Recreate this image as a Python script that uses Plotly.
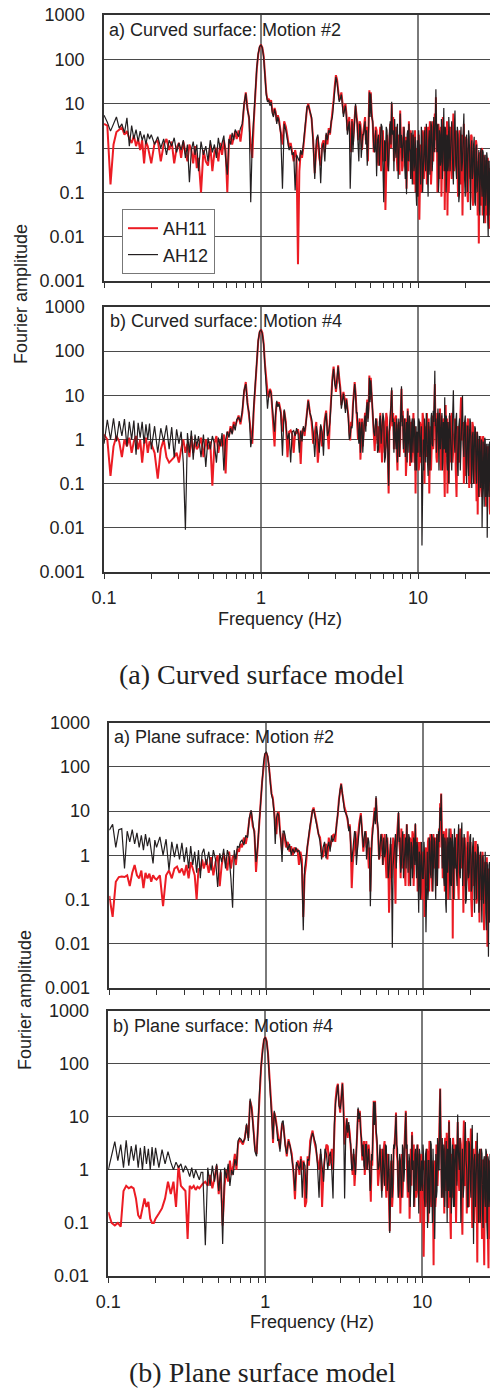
import sys
import math
import plotly.graph_objects as go

# ---------------- data ----------------
freq = [
    0.100, 0.105, 0.110, 0.115, 0.120, 0.125, 0.130, 0.135, 0.140, 0.145, 0.150, 0.155, 0.160, 0.165, 0.170, 0.175, 0.180, 0.185, 0.190, 0.195,
    0.20, 0.21, 0.22, 0.23, 0.24, 0.25, 0.26, 0.27, 0.28, 0.29, 0.30, 0.31, 0.32, 0.33, 0.34, 0.35, 0.36, 0.37, 0.38, 0.39,
    0.400, 0.415, 0.430, 0.445, 0.460, 0.475, 0.490, 0.505, 0.520, 0.535, 0.550, 0.565, 0.580, 0.595, 0.610, 0.625, 0.640, 0.655, 0.670, 0.685,
    0.70, 0.72, 0.74, 0.76, 0.78, 0.80, 0.82, 0.84, 0.86, 0.88, 0.90, 0.92, 0.94, 0.96, 0.98, 1.00, 1.02, 1.04, 1.06, 1.08, 1.10, 1.12, 1.14, 1.16, 1.18, 1.20, 1.22, 1.24, 1.26, 1.28,
    1.300, 1.335, 1.370, 1.405, 1.440, 1.475, 1.510, 1.545, 1.580, 1.615, 1.650, 1.685, 1.720, 1.755, 1.790, 1.825, 1.860, 1.895, 1.930, 1.965,
    2.00, 2.05, 2.10, 2.15, 2.20, 2.25, 2.30, 2.35, 2.40, 2.45, 2.50, 2.55, 2.60, 2.65, 2.70, 2.75, 2.80, 2.85, 2.90, 2.95,
    3.00, 3.05, 3.10, 3.15, 3.20, 3.25, 3.30, 3.35, 3.40, 3.45, 3.50, 3.55, 3.60, 3.65, 3.70, 3.75, 3.80, 3.85, 3.90, 3.95,
    4.00, 4.05, 4.10, 4.15, 4.20, 4.25, 4.30, 4.35, 4.40, 4.45, 4.50, 4.55, 4.60, 4.65, 4.70, 4.75, 4.80, 4.85, 4.90, 4.95,
    5.000, 5.075, 5.150, 5.225, 5.300, 5.375, 5.450, 5.525, 5.600, 5.675, 5.750, 5.825, 5.900, 5.975, 6.050, 6.125, 6.200, 6.275, 6.350, 6.425,
    6.500, 6.575, 6.650, 6.725, 6.800, 6.875, 6.950, 7.025, 7.100, 7.175, 7.250, 7.325, 7.400, 7.475, 7.550, 7.625, 7.700, 7.775, 7.850, 7.925,
    8.000, 8.075, 8.150, 8.225, 8.300, 8.375, 8.450, 8.525, 8.600, 8.675, 8.750, 8.825, 8.900, 8.975, 9.050, 9.125, 9.200, 9.275, 9.350, 9.425,
    9.500, 9.575, 9.650, 9.725, 9.800, 9.900,
    10.0, 10.1, 10.2, 10.3, 10.4, 10.5, 10.6, 10.7, 10.8, 10.9, 11.0, 11.1, 11.2, 11.3, 11.4, 11.5, 11.6, 11.7, 11.8, 11.9,
    12.0, 12.1, 12.2, 12.3, 12.4, 12.5, 12.6, 12.7, 12.8, 12.9, 13.0, 13.1, 13.2, 13.3, 13.4, 13.5, 13.6, 13.7, 13.8, 13.9,
    14.0, 14.1, 14.2, 14.3, 14.4, 14.5, 14.6, 14.7, 14.8, 14.9, 15.0, 15.1, 15.2, 15.3, 15.4, 15.5, 15.6, 15.7, 15.8, 15.9,
    16.0, 16.2, 16.4, 16.6, 16.8, 17.0, 17.2, 17.4, 17.6, 17.8, 18.0, 18.2, 18.4, 18.6, 18.8, 19.0, 19.2, 19.4, 19.6, 19.8,
    20.0, 20.2, 20.4, 20.6, 20.8, 21.0, 21.2, 21.4, 21.6, 21.8, 22.0, 22.2, 22.4, 22.6, 22.8, 23.0, 23.2, 23.4, 23.6, 23.8,
    24.0, 24.2, 24.4, 24.6, 24.8, 25.0, 25.2, 25.4, 25.6, 25.8, 26.0, 26.2, 26.4, 26.6, 26.8, 27.0, 27.2, 27.4, 27.6, 27.8,
    28.0, 28.2, 28.4, 28.6, 28.8, 29.0, 29.2,
]

curved_m2_AH11 = [
    3.5, 3.2, 0.15, 1.2, 2.3, 2.6, 2.9, 2.0, 2.4, 1.6, 1.3, 1.9, 1.1, 1.6, 0.9, 1.5, 0.45, 1.4, 1.1, 0.7,
    0.45, 1.3, 1.5, 0.5, 1.2, 1.6, 0.9, 1.4, 0.45, 1.0, 1.3, 0.6, 1.4, 0.8, 0.5, 1.2, 0.9, 0.45, 1.1, 0.35,
    0.6, 0.1, 0.9, 0.5, 0.4, 1.2, 0.3, 0.8, 1.0, 0.5, 1.3, 0.7, 1.5, 0.9, 0.1, 1.4, 2.0, 1.2, 1.8, 2.4,
    1.6, 2.5, 1.4, 3.0, 9.0, 18, 8.0, 4.5, 1.2, 0.6, 4.0, 20, 60, 130, 190, 215, 185, 120, 45, 18, 12, 13, 10, 12, 7, 5.5, 8.0, 6.5, 4.0, 5.5,
    4.5, 2.5, 1.2, 4.0, 3.0, 1.8, 1.0, 1.3, 0.8, 0.5, 0.9, 0.6, 0.0024, 0.3, 0.8, 0.6, 1.0, 2.0, 4.0, 8.0,
    10, 7, 4.5, 1.5, 0.27, 1.0, 1.8, 0.6, 0.4, 1.2, 1.5, 0.8, 2.0, 1.2, 2.8, 2.0, 3.5, 6, 12, 25,
    44, 35, 22, 12, 14, 18, 11, 6, 8, 10, 6, 2.5, 3.5, 5, 1.5, 0.8, 4.5, 1.2, 2.5, 5,
    9, 6, 4.0, 1.5, 2.2, 4.0, 3.5, 1.0, 0.9, 1.8, 2.5, 4.0, 5.0, 1.5, 3.0, 1.0, 0.5, 4.0, 20, 6,
    18, 6, 3.5, 0.8, 1.2, 3.0, 2.5, 0.6, 0.4, 1.5, 3.0, 0.3, 1.0, 2.5, 0.5, 1.2, 0.04, 0.8, 2.0, 0.3,
    0.6, 2.0, 3.5, 1.0, 10, 2.5, 5, 0.5, 0.8, 2.0, 3.0, 0.6, 0.3, 1.2, 2.0, 0.25, 7, 2.0, 1.5, 0.3,
    0.4, 3.0, 2.5, 0.6, 0.8, 1.8, 0.12, 0.9, 1.5, 0.3, 4.0, 0.8, 0.5, 2.5, 1.8, 0.2, 0.3, 2.0, 1.2, 0.15,
    0.6, 2.5, 0.1, 1.0, 0.8, 0.2,
    0.6, 2.0, 0.024, 0.9, 1.2, 0.1, 0.3, 2.5, 2.0, 0.2, 0.5, 3.0, 1.5, 0.4, 0.15, 1.5, 3.0, 0.3, 0.8, 4.0,
    2.0, 0.15, 0.3, 1.8, 4.0, 0.5, 1.0, 2.5, 6.0, 1.5, 14, 0.8, 2.0, 0.1, 0.4, 3.5, 2.5, 0.2, 0.7, 2.0,
    3.0, 0.08, 0.25, 1.5, 5.0, 0.3, 1.0, 3.0, 0.04, 0.6, 2.0, 0.15, 0.5, 4.0, 0.03, 0.5, 1.5, 0.1, 0.3, 2.5,
    3.0, 0.5, 0.2, 1.5, 6.0, 0.3, 0.5, 2.5, 2.0, 0.4, 0.08, 1.2, 2.5, 0.15, 0.4, 2.0, 0.03, 0.6, 3.5, 0.2,
    0.3, 1.8, 1.5, 0.1, 0.06, 0.9, 1.2, 0.3, 0.2, 2.0, 1.8, 0.08, 0.05, 0.7, 1.0, 0.1, 0.15, 1.5, 1.2, 0.2,
    0.03, 0.5, 0.007, 0.4, 0.8, 0.05, 0.1, 0.9, 1.0, 0.03, 0.04, 0.7, 0.6, 0.08, 0.02, 0.5, 0.5, 0.03, 0.05, 0.6,
    0.4, 0.02, 0.015, 0.3, 0.35, 0.04, 0.1,
]
curved_m2_AH12 = [
    5.5, 3.8, 2.4, 3.5, 5.0, 2.8, 3.5, 2.2, 4.8, 1.1, 3.2, 1.6, 2.6, 1.4, 2.4, 1.5, 2.0, 1.2, 2.1, 1.6,
    2.0, 1.2, 1.8, 1.0, 1.6, 0.7, 1.5, 1.1, 1.7, 0.8, 1.3, 0.9, 1.5, 0.6, 1.2, 0.17, 0.9, 1.4, 0.7, 1.2,
    0.3, 1.4, 0.7, 1.1, 0.5, 1.5, 0.8, 1.2, 0.6, 1.7, 0.9, 1.3, 1.9, 0.6, 0.25, 1.6, 1.2, 2.2, 1.5, 2.6,
    2.2, 1.8, 2.8, 3.5, 10, 17, 7, 5, 0.06, 1.5, 5, 22, 65, 135, 195, 210, 180, 110, 40, 16, 11, 12, 9, 11, 6, 5, 7.5, 6, 3.5, 5,
    4.0, 2.2, 0.12, 3.5, 2.5, 1.5, 0.9, 1.1, 0.7, 0.8, 0.11, 0.7, 0.6, 0.5, 0.9, 0.7, 1.2, 2.2, 4.5, 8.5,
    9, 7, 5, 1.2, 0.2, 1.5, 2.0, 0.9, 0.16, 1.0, 1.3, 0.5, 2.2, 1.5, 2.5, 2.2, 4.0, 5, 11, 22,
    40, 30, 20, 11, 13, 16, 9, 5, 7, 9, 5, 2.0, 3.0, 4.0, 0.12, 1.5, 4.0, 0.8, 2.0, 6,
    10, 5, 3.5, 1.2, 0.5, 3.5, 3.0, 0.6, 1.2, 2.0, 2.0, 3.5, 4.0, 1.2, 2.5, 0.4, 1.0, 3.0, 18, 5,
    17, 5, 4.0, 1.0, 0.8, 2.5, 0.23, 1.5, 2.0, 0.4, 1.2, 3.5, 3.0, 0.5, 0.06, 1.5, 0.5, 3.0, 2.5, 0.4,
    0.3, 2.0, 4.0, 1.2, 11, 2.0, 2.5, 0.3, 4.5, 1.0, 0.6, 2.5, 3.5, 0.2, 0.9, 3.0, 6, 1.0, 2.0, 0.5,
    0.8, 2.0, 3.0, 0.4, 0.2, 1.5, 0.09, 2.0, 2.5, 0.5, 3.5, 1.0, 0.8, 0.2, 2.2, 0.6, 0.15, 2.5, 1.5, 0.3,
    0.4, 1.8, 1.0, 0.1, 0.05, 1.5,
    0.08, 2.5, 1.0, 0.3, 0.15, 3.0, 1.8, 0.1, 0.4, 2.0, 2.5, 0.5, 0.3, 3.5, 1.2, 0.2, 0.08, 1.5, 2.5, 0.25,
    0.6, 4.0, 3.0, 0.3, 0.5, 2.0, 5.0, 0.8, 1.5, 4.0, 21, 1.0, 0.8, 3.0, 3.5, 0.1, 0.2, 2.5, 2.0, 0.4,
    0.5, 4.5, 3.0, 0.2, 0.9, 2.5, 8, 0.5, 0.3, 3.0, 2.5, 0.1, 0.2, 2.0, 1.8, 0.3, 0.4, 5.0, 3.0, 0.6,
    0.3, 1.5, 4.0, 0.5, 0.15, 2.5, 7.0, 0.4, 0.2, 3.0, 2.0, 0.06, 0.1, 1.5, 3.0, 0.3, 0.5, 2.0, 6.0, 0.2,
    0.08, 1.5, 2.0, 0.1, 0.3, 2.5, 1.8, 0.15, 0.04, 1.0, 1.5, 0.2, 0.3, 1.2, 1.8, 0.06, 0.05, 1.0, 1.2, 0.1,
    0.2, 0.9, 0.9, 0.04, 0.03, 0.8, 1.0, 0.15, 0.08, 0.9, 0.8, 0.02, 0.04, 0.6, 0.7, 0.05, 0.1, 0.8, 0.6, 0.03,
    0.01, 0.5, 0.5, 0.06, 0.03, 0.45, 0.4,
]

curved_m4_AH11 = [
    1.3, 1.0, 0.15, 0.7, 1.2, 0.9, 0.4, 1.0, 0.7, 1.1, 0.5, 0.9, 1.2, 0.6, 1.0, 0.3, 0.8, 1.1, 0.5, 0.9,
    0.8, 0.5, 0.13, 0.6, 1.0, 0.4, 0.3, 0.35, 0.4, 0.5, 0.3, 0.6, 1.0, 0.5, 0.8, 0.4, 1.2, 0.5, 0.9, 0.6,
    0.7, 1.1, 0.4, 1.0, 0.6, 0.9, 0.09, 0.8, 1.2, 0.5, 1.0, 0.7, 1.3, 0.17, 1.5, 1.2, 2.0, 1.4, 2.5, 2.0,
    2.5, 3.5, 2.2, 4.0, 12, 20, 7, 3.5, 1.5, 0.8, 5, 20, 70, 170, 270, 310, 260, 150, 50, 20, 12, 9, 14, 12, 5, 2.5, 0.7, 3.5, 7.0, 6.0,
    7.0, 4.5, 1.5, 4.5, 2.5, 0.4, 1.5, 1.6, 1.3, 0.5, 1.5, 1.4, 1.7, 1.2, 0.28, 1.5, 1.8, 1.2, 2.5, 4.5,
    8, 4, 2.5, 0.8, 1.5, 2.5, 0.3, 1.0, 2.0, 0.7, 1.8, 3.0, 4.5, 2.0, 0.6, 3.0, 10, 25, 45, 20,
    12, 20, 48, 25, 15, 6, 8, 12, 9, 5, 8.5, 6, 3.5, 1.5, 0.95, 2.5, 2.0, 6, 16, 20,
    12, 5, 3.5, 1.0, 2.0, 3.0, 0.35, 1.5, 3.0, 0.7, 1.5, 3.0, 4.0, 2.0, 5.5, 8, 3.0, 6, 28, 8,
    25, 8, 3.5, 1.0, 0.55, 2.0, 3.0, 0.8, 2.0, 0.5, 4.0, 1.2, 0.3, 3.0, 2.5, 0.5, 0.7, 4.0, 3.0, 0.4,
    0.06, 1.5, 2.0, 5.0, 13, 2.0, 4.0, 0.6, 1.0, 3.0, 3.5, 0.5, 0.2, 2.0, 2.5, 0.4, 0.9, 5.0, 14, 2.5,
    4.5, 1.0, 0.5, 2.5, 3.0, 0.15, 0.3, 1.5, 5.0, 0.8, 1.2, 3.0, 0.25, 1.0, 2.5, 0.3, 0.8, 2.0, 4.0, 0.6,
    0.3, 2.0, 0.06, 0.8, 1.5, 0.4,
    1.5, 0.2, 0.3, 2.5, 2.0, 0.3, 0.5, 4.0, 3.0, 0.8, 0.1, 2.0, 1.5, 0.4, 4.0, 1.0, 0.8, 3.0, 0.06, 0.5,
    2.0, 0.2, 0.5, 2.5, 3.5, 0.6, 1.0, 5.0, 18, 3.0, 2.5, 0.4, 0.3, 4.0, 3.0, 0.8, 0.8, 2.0, 5.0, 0.3,
    0.2, 3.5, 2.0, 0.5, 0.6, 2.5, 3.0, 0.2, 0.05, 1.5, 6.0, 0.8, 0.4, 3.0, 0.06, 0.5, 2.5, 0.1, 0.8, 3.5,
    0.3, 2.0, 4.0, 0.3, 0.8, 2.5, 3.0, 0.2, 0.05, 1.5, 2.0, 0.3, 0.4, 3.0, 9.0, 1.0, 1.0, 2.5, 0.1, 0.8,
    2.5, 0.15, 0.3, 2.0, 3.0, 0.4, 0.08, 1.2, 1.5, 0.1, 0.5, 2.5, 2.0, 0.2, 0.1, 1.0, 1.2, 0.3, 0.04, 1.5,
    0.02, 0.6, 1.0, 0.05, 0.15, 1.2, 0.8, 0.08, 0.05, 0.9, 1.2, 0.2, 0.1, 0.8, 0.6, 0.04, 0.03, 0.6, 0.7, 0.15,
    0.1, 0.7, 0.5, 0.03, 0.02, 0.5, 0.4,
]
curved_m4_AH12 = [
    0.8, 2.8, 1.0, 3.0, 0.9, 2.6, 1.2, 2.9, 0.7, 2.5, 1.0, 2.7, 0.45, 2.4, 1.1, 2.5, 0.8, 2.2, 1.0, 2.3,
    0.6, 2.0, 0.5, 1.8, 0.9, 2.1, 0.6, 1.9, 0.4, 1.7, 0.8, 1.5, 0.3, 0.009, 1.4, 0.5, 1.6, 0.35, 1.3, 0.7,
    1.2, 0.4, 1.3, 0.24, 1.1, 0.6, 1.2, 0.8, 0.3, 1.1, 0.7, 1.4, 0.2, 1.0, 1.5, 1.1, 1.8, 1.3, 2.2, 1.6,
    2.8, 3.2, 2.5, 4.5, 13, 18, 6, 4.0, 0.67, 1.2, 6, 22, 75, 175, 280, 300, 250, 140, 45, 18, 5, 10, 13, 11, 6, 3.0, 1.5, 4.0, 7.5, 5.5,
    6.5, 4.0, 0.43, 4.8, 2.0, 1.0, 1.4, 0.3, 1.5, 1.6, 1.2, 1.8, 1.4, 0.5, 1.6, 0.9, 2.0, 1.5, 2.2, 5.0,
    7.5, 4, 3.0, 1.5, 0.4, 2.0, 1.2, 0.5, 2.2, 1.5, 0.43, 2.5, 4.0, 1.2, 1.5, 2.5, 9, 22, 40, 18,
    14, 22, 45, 20, 13, 5, 9, 11, 7, 4, 8, 5, 3.0, 1.0, 1.2, 2.0, 1.8, 5, 15, 18,
    11, 4, 4.0, 1.5, 0.8, 2.5, 0.5, 1.8, 2.5, 0.5, 1.8, 2.5, 3.5, 1.5, 5.0, 7, 2.5, 5, 25, 7,
    22, 6, 4.0, 1.5, 1.2, 3.0, 2.5, 0.5, 0.6, 2.5, 3.5, 0.8, 1.5, 4.0, 3.0, 0.3, 0.4, 1.5, 2.0, 0.5,
    0.09, 2.0, 3.0, 6.0, 15, 2.5, 3.0, 0.5, 2.5, 1.0, 0.6, 3.0, 0.3, 1.5, 3.0, 0.4, 2.0, 6.0, 16, 2.0,
    3.5, 0.6, 1.0, 3.0, 0.4, 2.0, 2.5, 0.3, 4.5, 1.5, 0.5, 3.5, 2.0, 0.4, 0.3, 2.5, 3.0, 0.5, 1.0, 3.0,
    2.5, 0.2, 0.5, 2.0, 0.2, 1.5,
    0.5, 3.0, 2.5, 0.4, 0.8, 2.0, 0.004, 0.6, 1.0, 0.2, 3.0, 0.8, 0.3, 4.0, 2.0, 0.3, 0.15, 2.5, 1.5, 0.2,
    0.4, 3.0, 4.0, 0.8, 0.7, 4.5, 2.5, 8, 36, 2.0, 3.0, 0.5, 0.8, 2.5, 5.0, 0.3, 0.2, 4.0, 3.0, 0.6,
    1.0, 3.5, 4.0, 0.2, 0.3, 2.5, 2.0, 0.6, 9.0, 1.0, 0.5, 3.5, 3.0, 0.3, 0.2, 2.5, 1.5, 0.1, 0.5, 4.0,
    2.5, 0.6, 0.2, 3.0, 13, 1.0, 0.5, 2.5, 4.0, 0.3, 0.15, 2.0, 3.0, 0.2, 0.8, 4.0, 10, 0.8, 0.4, 2.5,
    3.5, 0.3, 0.1, 2.0, 2.0, 0.15, 0.6, 3.0, 2.5, 0.4, 0.08, 1.2, 1.5, 0.1, 0.3, 2.0, 1.8, 0.2, 0.1, 1.5,
    1.2, 0.3, 0.05, 1.2, 1.0, 0.08, 0.2, 1.0, 0.01, 0.6, 0.9, 0.1, 0.03, 1.1, 1.0, 0.05, 0.15, 0.8, 0.006, 0.5,
    0.8, 0.1, 0.05, 0.9, 0.7, 0.08, 0.02,
]

plane_m2_AH11 = [
    0.12, 0.04, 0.25, 0.32, 0.33, 0.32, 0.35, 0.2, 0.4, 0.6, 0.35, 0.3, 0.45, 0.18, 0.4, 0.3, 0.38, 0.25, 0.35, 0.3,
    0.28, 0.35, 0.07, 0.35, 0.45, 0.3, 0.5, 0.55, 0.4, 0.5, 0.35, 0.6, 0.3, 0.7, 0.5, 0.35, 0.1, 0.5, 0.45, 0.8,
    0.5, 0.8, 0.4, 0.9, 0.35, 0.7, 1.0, 0.2, 0.6, 1.1, 0.7, 0.45, 1.2, 0.5, 0.9, 1.0, 0.6, 1.4, 1.2, 1.8,
    1.5, 2.5, 1.8, 3.0, 6.5, 10, 4.5, 3.5, 0.42, 1.2, 4.5, 15, 45, 120, 190, 210, 170, 100, 45, 25, 20, 10, 7, 3.0, 9, 9.5, 4, 2.0, 1.2, 3.0,
    3.0, 1.5, 2.0, 1.2, 1.6, 1.0, 1.5, 1.2, 1.4, 0.6, 1.2, 0.8, 0.04, 0.35, 0.6, 1.5, 2.5, 4.0, 6.0, 10,
    12, 8, 5, 3.0, 2.5, 1.2, 0.9, 1.5, 1.8, 0.8, 2.5, 1.5, 2.2, 2.8, 3.0, 2.0, 5, 8, 18, 30,
    42, 25, 15, 12, 10, 8, 6, 4, 5, 2.0, 0.18, 0.6, 1.2, 2.5, 3.5, 1.0, 1.5, 3.0, 5, 7,
    9, 5, 3.0, 1.2, 1.8, 3.0, 3.5, 1.5, 2.5, 1.0, 0.5, 1.5, 0.15, 1.0, 2.5, 4.0, 5, 8, 12, 6,
    20, 6, 3.5, 0.8, 1.0, 2.5, 3.0, 0.6, 1.5, 3.0, 0.8, 0.3, 2.5, 1.0, 0.05, 1.2, 1.8, 0.3, 0.6, 2.5,
    2.0, 0.5, 0.08, 1.5, 3.0, 5.0, 9.0, 2.0, 1.2, 0.3, 4.0, 1.0, 0.5, 2.5, 3.0, 0.4, 0.2, 1.8, 5.0, 1.0,
    1.5, 0.2, 0.3, 2.5, 2.0, 0.5, 0.7, 3.5, 3.0, 0.2, 0.4, 1.5, 5.0, 0.8, 1.0, 2.5, 0.15, 0.8, 2.0, 0.3,
    0.5, 2.0, 1.5, 0.2, 0.1, 1.0,
    1.2, 0.3, 0.04, 0.8, 1.5, 0.2, 0.3, 2.0, 2.5, 0.15, 0.5, 3.0, 1.8, 0.3, 0.15, 1.5, 3.0, 0.5, 0.8, 2.5,
    2.0, 0.2, 0.4, 3.0, 1.5, 0.5, 4.0, 1.5, 15, 8, 25, 4, 2.0, 0.3, 0.6, 3.5, 2.5, 0.15, 0.3, 2.0,
    4.0, 0.5, 0.8, 2.5, 0.1, 1.5, 2.0, 0.3, 0.4, 4.0, 3.0, 0.6, 0.2, 1.5, 0.013, 0.5, 1.5, 0.1, 0.5, 2.5,
    0.5, 1.5, 3.0, 0.3, 0.1, 2.0, 4.0, 0.5, 0.8, 2.5, 0.05, 0.8, 2.5, 0.2, 0.3, 1.5, 3.5, 0.3, 0.15, 1.2,
    2.0, 0.1, 0.04, 0.9, 1.5, 0.2, 0.4, 2.0, 2.0, 0.08, 0.1, 1.0, 1.2, 0.2, 0.03, 0.8, 1.0, 0.1, 0.2, 1.2,
    0.8, 0.05, 0.02, 0.6, 0.7, 0.08, 0.1, 0.9, 0.0085, 0.3, 0.5, 0.03, 0.05, 0.6, 0.4, 0.04, 0.02, 0.5, 0.3, 0.02,
    0.05, 0.4, 0.3, 0.03, 0.02, 0.3, 0.2,
]
plane_m2_AH12 = [
    3.7, 5.0, 1.5, 3.8, 4.0, 0.5, 3.5, 2.0, 3.8, 1.8, 3.2, 1.5, 2.8, 1.3, 3.0, 1.6, 2.5, 1.2, 0.65, 2.2,
    1.5, 2.6, 1.0, 2.3, 0.46, 2.0, 0.9, 1.8, 0.8, 1.9, 0.7, 1.5, 0.5, 1.6, 0.6, 1.2, 0.4, 1.3, 0.3, 1.1,
    1.4, 0.6, 1.2, 0.45, 1.3, 0.8, 0.19, 1.1, 0.7, 1.4, 0.5, 1.3, 0.9, 0.3, 0.065, 1.3, 0.8, 1.6, 1.5, 2.0,
    2.2, 1.7, 2.8, 2.5, 7, 10.5, 5, 3.0, 0.7, 1.5, 5, 16, 48, 125, 200, 215, 175, 105, 45, 23, 18, 9, 1.8, 7, 9, 8, 3.5, 2.0, 0.7, 3.5,
    3.5, 2.0, 1.3, 1.8, 1.0, 1.4, 1.1, 1.5, 1.2, 1.3, 0.9, 0.5, 0.02, 0.5, 0.9, 1.8, 3.0, 4.5, 6.5, 10,
    11, 7, 4.5, 2.5, 2.0, 0.8, 1.5, 2.0, 0.85, 1.5, 2.0, 1.2, 2.8, 2.0, 2.5, 3.0, 4.5, 9, 20, 30,
    40, 22, 14, 10, 9, 8, 7, 3.5, 4.5, 1.5, 0.7, 1.2, 2.0, 3.5, 3.0, 0.6, 1.2, 2.5, 4.5, 6,
    8, 4, 3.5, 1.5, 2.5, 3.5, 3.0, 0.8, 1.5, 2.5, 2.0, 0.8, 0.07, 1.2, 2.0, 3.0, 4.5, 7, 10, 5,
    22, 7, 4.0, 0.8, 1.5, 3.0, 2.0, 0.6, 2.5, 0.9, 1.2, 3.0, 2.0, 0.3, 0.5, 2.0, 2.5, 0.4, 0.008, 0.6,
    1.0, 2.5, 3.0, 0.5, 1.5, 3.5, 9.5, 2.0, 2.5, 0.4, 0.6, 2.0, 3.5, 0.3, 0.8, 2.5, 2.5, 0.5, 5.0, 1.5,
    0.4, 3.0, 2.5, 0.6, 0.2, 2.0, 1.5, 0.3, 0.5, 2.5, 2.0, 0.6, 5.3, 1.0, 0.3, 2.0, 1.5, 0.2, 0.05, 1.2,
    1.0, 0.1, 0.15, 2.0, 0.8, 0.3,
    0.3, 2.0, 1.0, 0.3, 0.018, 0.9, 1.2, 0.1, 0.2, 2.5, 2.0, 0.4, 0.3, 3.0, 2.5, 0.15, 0.5, 2.5, 2.0, 0.3,
    0.1, 1.5, 3.0, 0.2, 0.6, 3.5, 2.0, 5, 12, 6, 24, 3, 0.5, 2.0, 3.0, 0.3, 0.2, 2.5, 2.0, 0.08,
    0.05, 1.5, 2.5, 0.4, 0.8, 3.0, 4.0, 0.3, 0.1, 2.5, 2.0, 0.2, 0.7, 3.0, 1.5, 0.3, 0.1, 2.0, 4.0, 0.5,
    2.5, 0.6, 0.2, 2.0, 5.0, 0.4, 0.3, 2.5, 5.5, 0.2, 0.5, 3.0, 1.5, 0.08, 0.1, 2.0, 2.0, 0.3, 0.4, 2.5,
    3.0, 0.15, 0.2, 1.5, 2.5, 0.3, 0.05, 1.2, 1.0, 0.1, 0.5, 1.8, 1.5, 0.05, 0.1, 1.0, 1.2, 0.15, 0.03, 0.8,
    1.0, 0.08, 0.3, 1.2, 1.2, 0.05, 0.02, 0.7, 0.6, 0.1, 0.005, 0.6, 0.7, 0.03, 0.05, 0.5, 0.5, 0.1, 0.03, 0.4,
    0.4, 0.02, 0.1, 0.5, 0.3, 0.04, 0.05,
]

plane_m4_AH11 = [
    0.16, 0.1, 0.09, 0.1, 0.085, 0.4, 0.5, 0.45, 0.48, 0.45, 0.29, 0.14, 0.12, 0.18, 0.29, 0.2, 0.25, 0.12, 0.1, 0.1,
    0.12, 0.15, 0.19, 0.29, 0.6, 0.35, 0.6, 0.2, 1.2, 0.5, 0.45, 0.4, 0.05, 0.5, 0.45, 0.5, 0.42, 0.48, 0.45, 0.5,
    0.55, 0.6, 0.5, 0.8, 0.45, 0.7, 1.2, 0.35, 0.9, 0.09, 0.5, 1.0, 0.6, 1.5, 0.8, 1.2, 2.0, 1.0, 3.0, 3.8,
    3.5, 3.0, 4.0, 7, 4.0, 20, 15, 6, 2.5, 2.0, 8, 30, 85, 180, 280, 320, 270, 160, 70, 25, 12, 3.2, 12, 10, 7, 4.0, 3.5, 2.5, 5.0, 7.5,
    7.0, 3.5, 1.8, 3.8, 2.5, 2.0, 0.9, 0.28, 1.2, 1.5, 0.8, 1.8, 1.0, 1.5, 0.2, 0.25, 1.8, 1.2, 3.5, 4.5,
    5.5, 3.5, 2.5, 1.5, 1.0, 2.0, 0.2, 1.0, 2.0, 3.0, 2.8, 1.2, 1.5, 2.5, 1.0, 6, 20, 35, 42, 18,
    12, 25, 44, 15, 3.0, 5, 9.5, 4, 7, 5, 2.5, 1.2, 0.8, 2.0, 0.5, 1.0, 1.8, 5, 14, 8,
    13, 6, 4.5, 1.5, 2.5, 3.5, 0.8, 2.0, 3.5, 1.0, 1.5, 3.0, 2.0, 0.6, 0.25, 1.5, 1.2, 5, 20, 8,
    20, 5, 3.0, 0.5, 0.9, 2.0, 2.5, 0.4, 0.6, 2.5, 3.5, 0.8, 0.3, 1.5, 2.0, 0.3, 0.07, 1.0, 1.5, 0.2,
    0.4, 2.5, 3.0, 5.0, 12, 2.0, 1.5, 0.5, 0.3, 1.5, 0.15, 0.8, 2.0, 0.3, 0.8, 2.5, 4.0, 6, 13, 3.0,
    2.0, 0.3, 0.4, 1.5, 0.12, 1.0, 2.5, 0.5, 5.2, 1.5, 1.0, 3.0, 0.2, 0.8, 2.0, 0.3, 0.5, 2.5, 3.0, 0.4,
    0.3, 2.0, 1.5, 0.1, 0.8, 2.0,
    0.8, 0.3, 0.023, 1.0, 1.5, 0.2, 0.3, 2.5, 2.0, 0.1, 0.6, 3.5, 3.0, 0.4, 0.2, 1.5, 1.2, 0.3, 0.016, 0.8,
    1.5, 0.2, 0.3, 3.0, 2.5, 0.5, 0.8, 2.0, 4.0, 10, 34, 5, 3.0, 0.3, 0.5, 2.5, 2.0, 0.6, 0.15, 3.0,
    4.0, 0.4, 0.6, 5.0, 2.5, 0.2, 0.2, 1.8, 8.6, 1.5, 1.0, 0.1, 0.05, 1.5, 2.0, 0.3, 0.4, 4.0, 3.0, 0.5,
    1.0, 3.0, 0.1, 1.5, 8.0, 0.8, 0.4, 4.0, 3.0, 0.3, 0.06, 2.0, 8.5, 0.5, 1.5, 3.5, 0.15, 0.8, 4.0, 0.2,
    0.5, 2.5, 6.0, 0.6, 0.08, 1.5, 2.5, 0.1, 0.3, 3.0, 3.5, 0.4, 0.018, 1.2, 2.0, 0.1, 0.2, 2.0, 2.5, 0.3,
    0.05, 1.5, 1.5, 0.08, 0.016, 1.0, 1.8, 0.2, 0.1, 2.0, 1.2, 0.05, 0.014, 0.8, 1.5, 0.15, 0.05, 1.5, 1.0, 0.03,
    0.02, 1.0, 0.8, 0.1, 0.05, 1.2, 0.6,
]
plane_m4_AH12 = [
    1.0, 2.0, 3.4, 1.5, 3.0, 1.1, 3.6, 1.2, 2.8, 1.5, 3.0, 1.1, 2.6, 1.0, 2.8, 1.3, 2.5, 1.0, 2.7, 1.2,
    2.6, 1.1, 2.4, 1.3, 2.2, 1.4, 1.0, 1.4, 1.1, 1.3, 0.9, 1.2, 1.0, 0.75, 1.1, 0.7, 1.0, 0.8, 0.65, 0.9,
    0.9, 0.038, 1.1, 0.5, 1.2, 0.6, 1.3, 0.4, 1.0, 0.04, 1.1, 0.7, 1.3, 0.5, 1.0, 0.8, 1.6, 1.2, 3.5, 4.0,
    3.8, 3.3, 3.8, 7.5, 3.5, 22, 13, 5.5, 2.2, 1.8, 9, 32, 90, 185, 290, 315, 260, 150, 65, 22, 10, 3.8, 13, 9, 6.5, 3.5, 3.8, 2.2, 5.5, 8,
    8.5, 3.0, 2.0, 3.5, 2.8, 1.5, 1.0, 0.4, 1.4, 1.2, 1.0, 1.6, 0.3, 1.4, 1.2, 0.29, 1.6, 1.5, 3.0, 4.0,
    5.0, 4, 3.0, 1.2, 0.3, 2.5, 1.2, 0.6, 2.5, 2.0, 1.0, 1.8, 2.2, 1.0, 0.29, 7, 18, 32, 40, 16,
    14, 22, 42, 12, 0.29, 4, 9, 5, 8, 4, 3.0, 1.0, 1.0, 2.5, 1.5, 0.8, 2.2, 6, 15, 9,
    12, 5, 4.0, 1.8, 3.0, 1.2, 1.0, 3.0, 3.0, 1.0, 2.0, 2.5, 1.2, 0.4, 0.6, 2.0, 1.5, 6, 19, 7,
    19, 6, 3.5, 1.0, 1.2, 3.0, 0.9, 0.3, 2.5, 1.2, 0.5, 3.0, 2.8, 0.4, 0.8, 2.0, 0.065, 1.0, 2.0, 0.3,
    0.6, 3.0, 2.5, 5.0, 11, 3.0, 2.5, 0.3, 0.4, 2.0, 1.5, 0.5, 0.3, 3.0, 2.5, 0.6, 1.0, 5.0, 12, 2.5,
    3.0, 0.6, 0.38, 2.0, 1.5, 0.2, 0.5, 3.0, 4.5, 1.0, 1.5, 0.2, 0.3, 2.0, 2.5, 0.4, 0.8, 3.0, 2.0, 0.3,
    0.15, 2.5, 2.0, 0.4, 0.5, 1.5,
    0.4, 3.0, 1.8, 0.3, 0.2, 2.0, 2.5, 0.5, 0.08, 1.5, 1.5, 0.15, 0.3, 3.5, 3.0, 0.5, 0.1, 2.5, 1.0, 0.2,
    0.05, 1.5, 2.0, 0.3, 0.4, 4.0, 3.0, 1.0, 1.0, 12, 33, 4, 1.5, 0.3, 4.0, 1.0, 0.3, 3.0, 2.5, 0.2,
    0.8, 2.0, 3.5, 0.5, 0.1, 2.5, 1.5, 0.4, 8.0, 1.5, 0.3, 4.0, 2.5, 0.15, 0.5, 3.0, 3.0, 0.4, 0.2, 2.5,
    0.2, 1.5, 3.0, 0.5, 11, 2.0, 1.0, 4.0, 0.1, 0.6, 2.5, 0.3, 0.5, 3.0, 8.0, 1.5, 1.0, 0.2, 0.2, 3.5,
    3.0, 0.6, 0.3, 2.5, 7.0, 0.8, 0.04, 1.5, 2.0, 0.2, 0.5, 3.0, 5.0, 0.5, 0.1, 2.0, 2.5, 0.1, 0.3, 2.5,
    2.0, 0.15, 0.08, 1.5, 1.8, 0.3, 0.2, 2.5, 2.2, 0.1, 0.05, 1.8, 1.5, 0.2, 0.3, 2.0, 1.8, 0.05, 0.02, 1.5,
    1.2, 0.2, 0.1, 1.8, 1.0, 0.3, 0.15,
]

y_ticks_6dec = [0.001, 0.01, 0.1, 1, 10, 100, 1000]
y_labels_6dec = ["0.001", "0.01", "0.1", "1", "10", "100", "1000"]
y_ticks_5dec = [0.01, 0.1, 1, 10, 100, 1000]
y_labels_5dec = ["0.01", "0.1", "1", "10", "100", "1000"]

panel_titles = ["a) Curved surface: Motion #2", "b) Curved surface: Motion #4",
                "a) Plane sufrace: Motion #2", "b) Plane surface: Motion #4"]
series_names = ["AH11", "AH12"]
x_title = "Frequency (Hz)"
y_title = "Fourier amplitude"
captions = ["(a) Curved surface model", "(b) Plane surface model"]

# ---------------- styling / layout ----------------
W, H = 490, 1391
RED = "#ec1c24"
BLACK = "#231f20"
SANS = "Liberation Sans, Arial, sans-serif"
SERIF = "Liberation Serif, Times New Roman, serif"
TXT = "#222222"
PX_PER_DEC = 157.0


def fx(p):
    return p / W


def fy(p):
    return 1 - p / H


panels = [
    dict(red=curved_m2_AH11, blk=curved_m2_AH12, left=104, top=15, bottom=281, yt=(y_ticks_6dec, y_labels_6dec), xlab=False, tx=107, ty=30),
    dict(red=curved_m4_AH11, blk=curved_m4_AH12, left=104, top=307, bottom=572, yt=(y_ticks_6dec, y_labels_6dec), xlab=True, tx=108, ty=321),
    dict(red=plane_m2_AH11, blk=plane_m2_AH12, left=109.3, top=722.7, bottom=987.7, yt=(y_ticks_6dec, y_labels_6dec), xlab=False, tx=112, ty=737),
    dict(red=plane_m4_AH11, blk=plane_m4_AH12, left=108.3, top=1010.7, bottom=1276, yt=(y_ticks_5dec, y_labels_5dec), xlab=True, tx=111, ty=1026),
]

fig = go.Figure()
layout = dict(
    width=W, height=H,
    margin=dict(l=0, r=0, t=0, b=0),
    paper_bgcolor="white", plot_bgcolor="white",
    showlegend=True,
    legend=dict(x=fx(122), y=fy(209), xanchor="left", yanchor="top",
                bgcolor="white", bordercolor="#777777", borderwidth=1,
                font=dict(family=SANS, size=18, color=TXT),
                itemwidth=30, tracegroupgap=0),
    font=dict(family=SANS, size=18, color=TXT),
    annotations=[],
)

for i, p in enumerate(panels, start=1):
    n = min(len(freq), len(p["red"]), len(p["blk"]))
    if not (len(freq) == len(p["red"]) == len(p["blk"])):
        print("length mismatch panel", i, len(freq), len(p["red"]), len(p["blk"]), file=sys.stderr)
    xa = "x" if i == 1 else f"x{i}"
    ya = "y" if i == 1 else f"y{i}"
    fig.add_trace(go.Scatter(x=freq[:n], y=p["red"][:n], mode="lines", name=series_names[0],
                             line=dict(color=RED, width=2), xaxis=xa, yaxis=ya,
                             showlegend=(i == 1), legendrank=1))
    fig.add_trace(go.Scatter(x=freq[:n], y=p["blk"][:n], mode="lines", name=series_names[1],
                             line=dict(color=BLACK, width=1.2), xaxis=xa, yaxis=ya,
                             showlegend=(i == 1), legendrank=2))
    xr_hi = -1 + (W - p["left"]) / PX_PER_DEC
    lo = p["yt"][0][0]
    layout["xaxis" if i == 1 else f"xaxis{i}"] = dict(
        type="log", domain=[fx(p["left"]), 1.0], range=[-1, xr_hi], anchor=ya,
        showgrid=True, gridcolor="#7a7a7a", gridwidth=1.5, dtick=1, tick0=0,
        showline=True, linecolor="#333333", linewidth=2, mirror=True,
        ticks="outside", ticklen=5, tickwidth=1, tickcolor="#333333",
        minor=dict(ticks="outside", ticklen=5, tickwidth=1, tickcolor="#333333", dtick="D1", showgrid=False),
        showticklabels=p["xlab"], tickfont=dict(family=SANS, size=18, color=TXT),
        ticklabelstandoff=3, automargin=False, zeroline=False,
    )
    layout["yaxis" if i == 1 else f"yaxis{i}"] = dict(
        type="log", domain=[fy(p["bottom"]), fy(p["top"])], range=[math.log10(lo), 3], anchor=xa,
        showgrid=True, gridcolor="#4a4a4a", gridwidth=1,
        tickmode="array", tickvals=p["yt"][0], ticktext=p["yt"][1],
        showline=True, linecolor="#333333", linewidth=1.5, mirror=False,
        ticks="", tickfont=dict(family=SANS, size=18, color=TXT),
        ticklabelstandoff=14, automargin=False, zeroline=False,
    )
    layout["annotations"].append(dict(
        text=panel_titles[i - 1], x=fx(p["tx"]), y=fy(p["ty"]), xref="paper", yref="paper",
        xanchor="left", yanchor="middle", showarrow=False,
        font=dict(family=SANS, size=18, color=TXT)))

# axis titles and captions
for (tx, ty) in [(280, 619), (312, 1322)]:
    layout["annotations"].append(dict(text=x_title, x=fx(tx), y=fy(ty), xref="paper", yref="paper",
                                      xanchor="center", yanchor="middle", showarrow=False,
                                      font=dict(family=SANS, size=18, color=TXT)))
for (tx, ty) in [(21, 294), (25, 1000)]:
    layout["annotations"].append(dict(text=y_title, x=fx(tx), y=fy(ty), xref="paper", yref="paper",
                                      xanchor="center", yanchor="middle", showarrow=False, textangle=-90,
                                      font=dict(family=SANS, size=18, color=TXT)))
for cap, (tx, ty) in zip(captions, [(262, 675), (262, 1372)]):
    layout["annotations"].append(dict(text=cap, x=fx(tx), y=fy(ty), xref="paper", yref="paper",
                                      xanchor="center", yanchor="middle", showarrow=False,
                                      font=dict(family=SERIF, size=28, color=TXT)))

fig.update_layout(**layout)
fig.write_html("out.html")
